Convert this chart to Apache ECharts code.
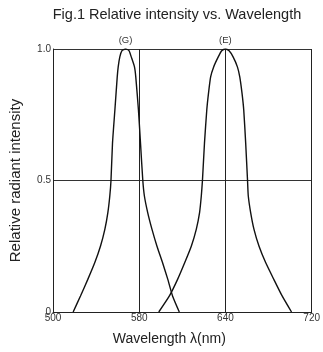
<!DOCTYPE html>
<html>
<head>
<meta charset="utf-8">
<script src="https://cdn.jsdelivr.net/npm/echarts@6/dist/echarts.min.js"></script>
<style>
  html, body { margin: 0; padding: 0; background: #fff; }
  #chart { width: 323px; height: 352px; }
</style>
</head>
<body>
<div id="chart"></div>
<script>
// tick labels of the wavelength axis (spaced evenly on the figure, not linearly)
const tickNm = [500, 580, 640, 720];

// curve G (green), wavelength in nm and relative intensity
const gNm = [518.7, 525.5, 532.3, 538.8, 544.1, 548.1, 550.9, 552.7, 553.8, 555.2, 557.4, 559.6, 560.5, 562, 564, 567.3,
  570.5, 572.6, 575.6, 576.8, 579.3, 580.9, 582.5, 583.6, 585.9, 588.9, 592.3, 596.2, 599.9, 603.2, 607.9];
const gVal = [0, 0.061, 0.124, 0.188, 0.251, 0.314, 0.378, 0.441, 0.5, 0.641, 0.767, 0.894, 0.932, 0.97, 0.994, 1,
  0.994, 0.97, 0.932, 0.894, 0.767, 0.641, 0.5, 0.441, 0.378, 0.314, 0.251, 0.188, 0.124, 0.061, 0];

// curve E
const eNm = [593.6, 601, 606.7, 611.7, 616.3, 619.7, 622, 623.2, 624, 625.4, 627, 628.2, 629.7, 631.8, 635, 637.4, 640,
  643.4, 647.1, 651.1, 653.3, 655.4, 657, 658.8, 660.5, 661.2, 663.4, 666.5, 671.1, 677.3, 684.9, 692.6, 701.3];
const eVal = [0, 0.061, 0.124, 0.188, 0.251, 0.314, 0.378, 0.441, 0.5, 0.641, 0.767, 0.831, 0.894, 0.932, 0.97, 0.993, 1,
  0.993, 0.97, 0.932, 0.894, 0.831, 0.767, 0.641, 0.5, 0.441, 0.378, 0.314, 0.251, 0.188, 0.124, 0.061, 0];

const peakLabels = ['(G)', '(E)'];
const peakNm = [567.3, 640];

// nm -> position on the piecewise axis (one unit per tick interval)
function xIdx(nm) {
  for (let i = 0; i < tickNm.length - 1; i++) {
    if (nm <= tickNm[i + 1] || i === tickNm.length - 2) {
      return i + (nm - tickNm[i]) / (tickNm[i + 1] - tickNm[i]);
    }
  }
}

function toData(nms, vals) {
  return nms.map((n, i) => [xIdx(n), vals[i]]);
}

const font = 'Liberation Sans, Arial, sans-serif';
const myChart = echarts.init(document.getElementById('chart'));

function curve(name, nms, vals, k) {
  return {
    name: name,
    type: 'line',
    data: toData(nms, vals),
    symbol: 'none',
    smooth: 0.2,
    lineStyle: { color: '#111', width: 1.4 },
    markPoint: {
      symbol: 'circle',
      symbolSize: 1,
      itemStyle: { color: 'transparent' },
      label: {
        show: true,
        position: 'top',
        distance: 3,
        formatter: peakLabels[k],
        fontSize: 9.5,
        color: '#333',
        fontFamily: font
      },
      data: [{ coord: [xIdx(peakNm[k]), 1] }]
    }
  };
}

const option = {
  animation: false,
  title: {
    text: 'Fig.1 Relative intensity vs. Wavelength',
    left: 172,
    textAlign: 'center',
    top: 2,
    textStyle: { fontSize: 14.5, fontWeight: 'normal', color: '#222', fontFamily: font }
  },
  grid: { left: 52, right: 10, top: 49, bottom: 40, containLabel: false },
  xAxis: {
    type: 'value',
    min: 0,
    max: 3,
    interval: 1,
    name: 'Wavelength λ(nm)',
    nameLocation: 'middle',
    nameGap: 20,
    nameTextStyle: { fontSize: 14, color: '#222', fontFamily: font, padding: [0, 26, 0, 0] },
    axisLine: { show: true, lineStyle: { color: '#222', width: 1 } },
    axisTick: { show: false },
    axisLabel: {
      margin: 1,
      fontSize: 10,
      color: '#333',
      fontFamily: font,
      formatter: v => String(tickNm[Math.round(v)])
    },
    splitLine: { show: true, showMinLine: true, showMaxLine: true, lineStyle: { color: '#222', width: 1 } }
  },
  yAxis: {
    type: 'value',
    min: 0,
    max: 1,
    interval: 0.5,
    name: 'Relative radiant intensity',
    nameLocation: 'middle',
    nameGap: 30,
    nameTextStyle: { fontSize: 15, color: '#222', fontFamily: font },
    axisLine: { show: true, lineStyle: { color: '#222', width: 1 } },
    axisTick: { show: false },
    axisLabel: {
      margin: 2,
      fontSize: 10,
      color: '#333',
      fontFamily: font,
      verticalAlign: 'middle',
      padding: [0, 0, 6, 0],
      formatter: v => (v === 0 ? '0' : v.toFixed(1))
    },
    splitLine: { show: true, showMinLine: true, showMaxLine: true, lineStyle: { color: '#333', width: 1 } }
  },
  series: [
    curve('G', gNm, gVal, 0),
    curve('E', eNm, eVal, 1)
  ]
};

myChart.setOption(option);
</script>
</body>
</html>
